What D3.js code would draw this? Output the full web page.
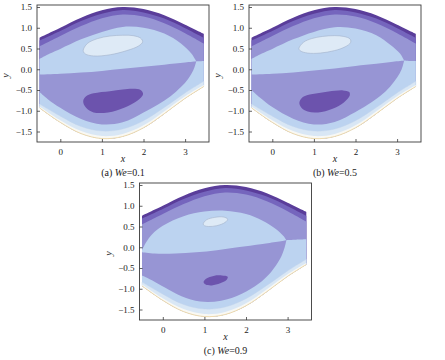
<!DOCTYPE html>
<html><head><meta charset="utf-8">
<script src="https://cdn.jsdelivr.net/npm/d3@7"></script>
<style>html,body{margin:0;padding:0;background:#fff;} svg, svg text{font-family:'Liberation Serif','DejaVu Serif',serif !important;}</style>
</head><body><svg id="chart" width="445" height="360" font-family="Liberation Serif"></svg>
<script>
// ---- data ----
const xs        = [-0.5, 0, 0.5, 1, 1.5, 2, 2.5, 3, 3.45];
const upperWall = [0.76, 1.0, 1.24, 1.42, 1.50, 1.45, 1.30, 1.07, 0.85];
const band2Top  = [0.69, 0.92, 1.16, 1.34, 1.43, 1.37, 1.22, 0.99, 0.76];
const mediumTop = [0.55, 0.80, 1.04, 1.23, 1.32, 1.27, 1.11, 0.87, 0.62];
const lighterTop= [-0.84, -1.13, -1.38, -1.49, -1.44, -1.24, -0.92, -0.57, -0.29];
const whiteTop  = [-0.90, -1.23, -1.49, -1.61, -1.56, -1.35, -1.01, -0.65, -0.38];
const lowerWall = [-0.93, -1.28, -1.55, -1.67, -1.62, -1.41, -1.07, -0.70, -0.415];

const xTicks = [0, 1, 2, 3];
const yTicks = [-1.5, -1.0, -0.5, 0.0, 0.5, 1.0, 1.5];
const captions = ["(a)", "(b)", "(c)"];
const weValues = ["0.1", "0.5", "0.9"];

// panel (a) We=0.1
const aL3      = [[-0.5,0.25],[-0.25,0.38],[0,0.49],[0.5,0.72],[1,0.9],[1.5,1.02],[2,1.0],[2.5,0.86],[2.9,0.62],[3.15,0.38],[3.27,0.19]];
const aL3Right = [[3.27,0.19],[3.36,0.195],[3.45,0.2]];
const aSep     = [[-0.5,-0.13],[0,-0.11],[0.5,-0.08],[1,-0.04],[1.5,0.01],[2,0.06],[2.5,0.11],[3,0.16],[3.27,0.19]];
const aMedBot  = [[3.27,0.19],[3.2,-0.02],[3.08,-0.22],[2.9,-0.43],[2.65,-0.65],[2.35,-0.85],[2.0,-1.04],[1.5,-1.28],[1.0,-1.33],[0.5,-1.2],[0,-0.93],[-0.3,-0.72],[-0.5,-0.55]];
const aVortex  = [[0.55,-0.77],[0.62,-0.65],[0.8,-0.58],[1.19,-0.53],[1.5,-0.49],[1.75,-0.47],[1.93,-0.5],[1.99,-0.6],[1.85,-0.76],[1.55,-0.92],[1.15,-1.04],[0.8,-1.04],[0.62,-0.93]];
const aBolus   = [[0.55,0.45],[0.65,0.62],[0.9,0.74],[1.19,0.80],[1.5,0.82],[1.75,0.81],[1.93,0.75],[1.98,0.66],[1.88,0.56],[1.6,0.45],[1.2,0.35],[0.8,0.32],[0.6,0.37]];

// panel (b) We=0.5
const bL3      = [[-0.5,0.25],[-0.25,0.38],[0,0.49],[0.5,0.72],[1,0.9],[1.5,1.01],[2,0.98],[2.5,0.82],[2.85,0.58],[3.07,0.38],[3.17,0.21]];
const bL3Right = [[3.17,0.21],[3.3,0.2],[3.45,0.2]];
const bSep     = [[-0.5,-0.13],[0,-0.11],[0.5,-0.08],[1,-0.03],[1.5,0.02],[2,0.08],[2.5,0.13],[2.9,0.18],[3.17,0.21]];
const bMedBot  = [[3.17,0.21],[3.11,0.0],[3.0,-0.2],[2.83,-0.42],[2.6,-0.64],[2.3,-0.85],[2.0,-1.03],[1.5,-1.27],[1.0,-1.33],[0.5,-1.19],[0,-0.91],[-0.3,-0.68],[-0.5,-0.5]];
const bVortex  = [[0.65,-0.81],[0.72,-0.68],[0.9,-0.61],[1.2,-0.56],[1.5,-0.52],[1.7,-0.51],[1.85,-0.55],[1.86,-0.64],[1.72,-0.8],[1.45,-0.95],[1.1,-1.04],[0.85,-1.02],[0.7,-0.93]];
const bBolus   = [[0.64,0.5],[0.75,0.65],[0.95,0.74],[1.2,0.79],[1.5,0.81],[1.72,0.79],[1.87,0.73],[1.88,0.64],[1.75,0.54],[1.5,0.45],[1.15,0.39],[0.85,0.39],[0.68,0.44]];

// panel (c) We=0.9
const cL3      = [[-0.5,-0.07],[-0.4,0.12],[-0.25,0.32],[0,0.52],[0.5,0.75],[1,0.86],[1.5,0.88],[2,0.8],[2.4,0.64],[2.7,0.45],[2.9,0.27],[2.97,0.17]];
const cL3Right = [[2.97,0.17],[3.2,0.18],[3.45,0.19]];
const cSep     = [[-0.5,-0.12],[-0.2,-0.15],[0.3,-0.15],[0.8,-0.12],[1.3,-0.07],[1.8,0.0],[2.4,0.08],[2.97,0.17]];
const cMedBot  = [[2.97,0.17],[2.93,0.0],[2.82,-0.28],[2.6,-0.6],[2.3,-0.88],[1.9,-1.12],[1.4,-1.29],[0.9,-1.31],[0.45,-1.18],[0.05,-0.97],[-0.25,-0.8],[-0.5,-0.68]];
const cVortex  = [[0.98,-0.84],[1.05,-0.75],[1.22,-0.69],[1.42,-0.68],[1.56,-0.71],[1.53,-0.79],[1.38,-0.87],[1.18,-0.92],[1.03,-0.9]];
const cBolus   = [[0.97,0.56],[1.05,0.66],[1.25,0.72],[1.45,0.73],[1.56,0.68],[1.5,0.6],[1.3,0.52],[1.1,0.5],[1.0,0.52]];

// ---- styling / layout ----
const FONT = "'Liberation Serif','DejaVu Serif',serif";
const C = {
  darkest:"#5a3d9a", dark2:"#7565bd", medium:"#9795d4", light:"#bcd3f0",
  bolus:"#deeaf6", vortex:"#6c53ad", lighter:"#d9e7f5", white:"#f8f8f4", edge:"#f0d9a6"
};
const W = 172, H = 137;
const panels = [
  {fx:37,  fy:5,   L3:aL3, L3r:aL3Right, sep:aSep, med:aMedBot, vortex:aVortex, bolus:aBolus},
  {fx:249, fy:5,   L3:bL3, L3r:bL3Right, sep:bSep, med:bMedBot, vortex:bVortex, bolus:bBolus},
  {fx:139.5, fy:183, L3:cL3, L3r:cL3Right, sep:cSep, med:cMedBot, vortex:cVortex, bolus:cBolus}
];

const svg = d3.select("#chart");
const zip = ys => xs.map((v,i)=>[v, ys[i]]);
const rev = a => a.slice().reverse();

panels.forEach((p, k) => {
  const x = d3.scaleLinear().domain([0,3]).range([p.fx+23.3, p.fx+23.3+124.8]);
  const y = d3.scaleLinear().domain([1.5,-1.5]).range([p.fy+2, p.fy+126.5]);
  const line = d3.line().x(d=>x(d[0])).y(d=>y(d[1])).curve(d3.curveCatmullRom.alpha(0.5));
  const closed = d3.line().x(d=>x(d[0])).y(d=>y(d[1])).curve(d3.curveCatmullRomClosed.alpha(0.5));
  const poly = segs => segs.map((s,i)=>{ const d=line(s); return i ? "L"+d.slice(1) : d; }).join("") + "Z";
  const g = svg.append("g");
  const lw = rev(zip(lowerWall));

  g.append("path").attr("d", poly([zip(upperWall), lw])).attr("fill", C.darkest);
  g.append("path").attr("d", poly([zip(band2Top), lw])).attr("fill", C.dark2);
  g.append("path").attr("d", poly([zip(mediumTop), lw])).attr("fill", C.medium);
  g.append("path").attr("d", poly([p.L3, p.L3r, lw])).attr("fill", C.light);
  g.append("path").attr("d", poly([p.sep, p.med])).attr("fill", C.medium);
  g.append("path").attr("d", closed(p.vortex)).attr("fill", C.vortex);
  g.append("path").attr("d", closed(p.bolus)).attr("fill", C.bolus)
    .attr("stroke", "#a3b1c9").attr("stroke-width", 0.6);
  g.append("path").attr("d", poly([zip(lighterTop), lw])).attr("fill", C.lighter)
    .attr("stroke","#c3d3ea").attr("stroke-width",0.4);
  g.append("path").attr("d", poly([zip(whiteTop), lw])).attr("fill", C.white);
  g.append("path").attr("d", line(zip(lowerWall))).attr("fill","none")
    .attr("stroke", C.edge).attr("stroke-width", 0.9);

  // frame
  g.append("rect").attr("x", p.fx).attr("y", p.fy).attr("width", W).attr("height", H)
    .attr("fill","none").attr("stroke","#3a3a3a").attr("stroke-width",0.9);

  // axes
  const ax = g.append("g").attr("transform", `translate(0,${p.fy+H})`)
    .call(d3.axisBottom(x).tickValues(xTicks).tickSize(-3).tickPadding(6.6).tickFormat(d3.format("d")));
  const ay = g.append("g").attr("transform", `translate(${p.fx},0)`)
    .call(d3.axisLeft(y).tickValues(yTicks).tickSize(-3).tickPadding(5).tickFormat(d3.format(".1f")));
  [ax, ay].forEach(a => {
    a.attr("font-family", FONT).attr("font-size", 9);
    a.select(".domain").remove();
    a.selectAll(".tick line").attr("stroke","#3a3a3a").attr("stroke-width",0.8);
    a.selectAll("text").attr("fill","#222");
  });

  // labels
  g.append("text").attr("x", p.fx+W/2).attr("y", p.fy+H+20).attr("text-anchor","middle")
    .attr("font-family", FONT).attr("font-size", 10).attr("font-style","italic").attr("fill","#222").text("x");
  g.append("text").attr("transform", `translate(${p.fx-28},${p.fy+H/2+2}) rotate(-90)`)
    .attr("text-anchor","middle").attr("font-family", FONT).attr("font-size", 10).attr("font-style","italic")
    .attr("fill","#222").text("y");
  const cap = g.append("text").attr("x", p.fx+W/2).attr("y", p.fy+H+33.5)
    .attr("text-anchor","middle").attr("font-family", FONT).attr("font-size", 10).attr("fill","#222");
  cap.append("tspan").text(captions[k] + " ");
  cap.append("tspan").attr("font-style","italic").text("We");
  cap.append("tspan").text("=" + weValues[k]);
});
</script></body></html>
